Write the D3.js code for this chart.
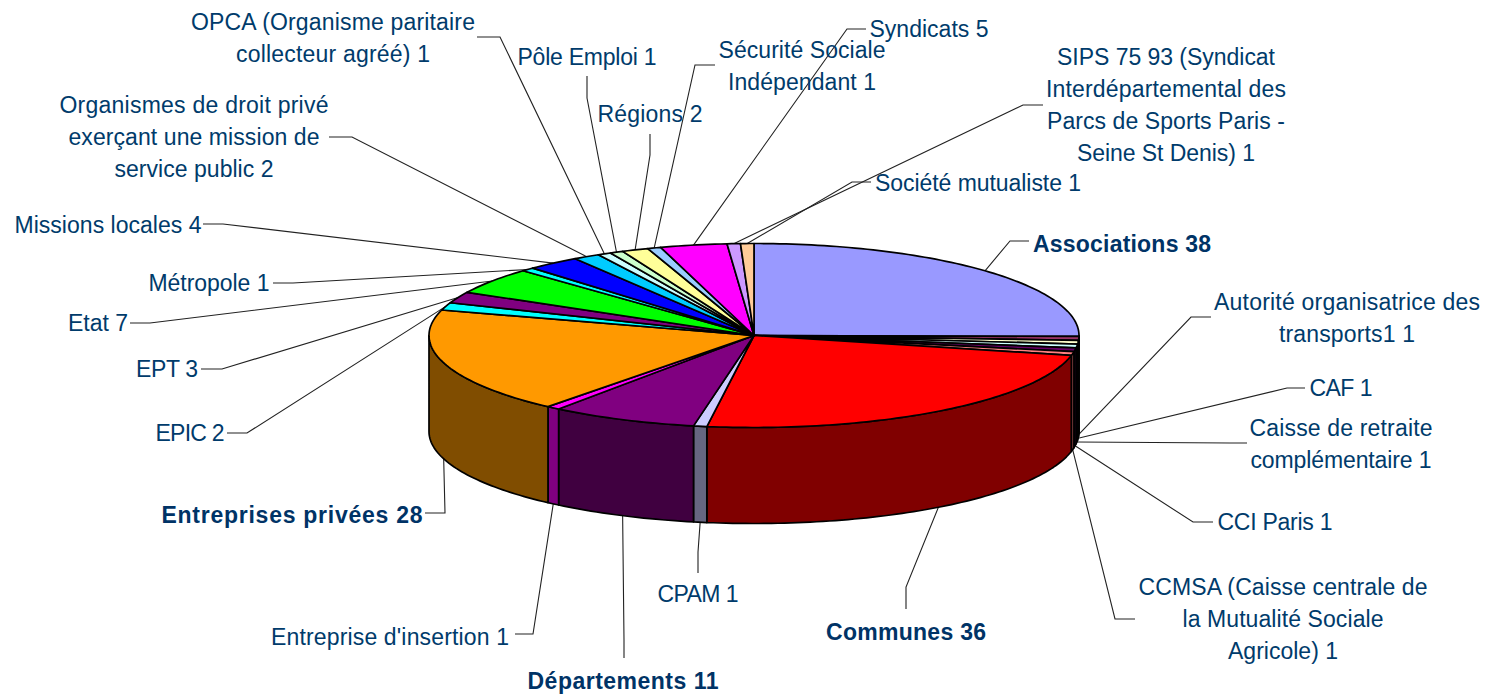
<!DOCTYPE html>
<html>
<head>
<meta charset="utf-8">
<script src="https://d3js.org/d3.v7.min.js"></script>
<style>
    html, body { margin: 0; padding: 0; background: #fff; }
    svg { display: block; }
    text { font-family: "Liberation Sans", Arial, sans-serif; font-size: 23px; fill: #003b6b; }
    text.bold { font-weight: bold; fill: #003366; }
</style>
</head>
<body>
<div id="chart"></div>
<script>
// Data, clockwise from 12 o'clock
const categories = [
    "Associations", "Autorité organisatrice", "CAF", "Caisse de retraite", "CCI Paris", "CCMSA", "Communes", "CPAM",
    "Départements", "Entreprise d'insertion", "Entreprises privées", "EPIC", "EPT", "Etat", "Métropole",
    "Missions locales", "Organismes de droit privé", "OPCA", "Pôle Emploi", "Régions", "Sécurité Sociale Indépendant",
    "Syndicats", "SIPS 75 93", "Société mutualiste"
];
const values = [38, 1, 1, 1, 1, 1, 36, 1, 11, 1, 28, 2, 3, 7, 1, 4, 2, 1, 1, 2, 1, 5, 1, 1];
const labelLines = [
    ["Associations 38"],
    ["Autorité organisatrice des", "transports1 1"],
    ["CAF 1"],
    ["Caisse de retraite", "complémentaire 1"],
    ["CCI Paris 1"],
    ["CCMSA (Caisse centrale de", "la Mutualité Sociale", "Agricole) 1"],
    ["Communes 36"],
    ["CPAM 1"],
    ["Départements 11"],
    ["Entreprise d'insertion 1"],
    ["Entreprises privées 28"],
    ["EPIC 2"],
    ["EPT 3"],
    ["Etat 7"],
    ["Métropole 1"],
    ["Missions locales 4"],
    ["Organismes de droit privé", "exerçant une mission de", "service public 2"],
    ["OPCA (Organisme paritaire", "collecteur agréé) 1"],
    ["Pôle Emploi 1"],
    ["Régions 2"],
    ["Sécurité Sociale", "Indépendant 1"],
    ["Syndicats 5"],
    ["SIPS 75 93 (Syndicat", "Interdépartemental des", "Parcs de Sports Paris -", "Seine St Denis) 1"],
    ["Société mutualiste 1"]
];
const boldLabels = ["Associations", "Communes", "Départements", "Entreprises privées"];
const topColors = [
    "#9999ff", "#993366", "#ffffcc", "#ccffff", "#660066", "#ff8080", "#ff0000", "#ccccff",
    "#800080", "#ff00ff", "#ff9900", "#00ffff", "#800080", "#00ff00", "#00ffff",
    "#0000ff", "#00ccff", "#ccffff", "#ccffcc", "#ffff99", "#99ccff", "#ff00ff", "#cc99ff", "#ffcc99"
];

// Label placement: text centre x, first line y, line widths, then leader elbow and end
const labelLayout = [
    { x: 1122, y: 244, w: [178], elbow: [1010, 241], end: [1029, 241] },
    { x: 1347, y: 302, w: [266, 136], elbow: [1191, 317], end: [1211, 317] },
    { x: 1341, y: 388, w: [63], elbow: [1287, 388], end: [1305, 388] },
    { x: 1341, y: 428, w: [183, 181], elbow: [1230, 443], end: [1247, 443] },
    { x: 1275, y: 522, w: [115], elbow: [1193, 522], end: [1213, 522] },
    { x: 1283, y: 587, w: [289, 201, 110], elbow: [1115, 619], end: [1135, 619] },
    { x: 906, y: 632, w: [160], elbow: [906, 587], end: [906, 609] },
    { x: 698, y: 594, w: [81], elbow: [698, 552], end: [698, 573] },
    { x: 623, y: 681, w: [191], elbow: [624, 640], end: [624, 658] },
    { x: 390, y: 637, w: [238], elbow: [533, 634], end: [515, 634] },
    { x: 292, y: 515, w: [261], elbow: [445, 513], end: [425, 513] },
    { x: 190, y: 433, w: [69], elbow: [247, 433], end: [227, 433] },
    { x: 167, y: 369, w: [62], elbow: [222, 369], end: [201, 369] },
    { x: 98, y: 323, w: [60], elbow: [150, 323], end: [130, 323] },
    { x: 209, y: 283, w: [121], elbow: [293, 283], end: [273, 283] },
    { x: 108, y: 225, w: [187], elbow: [223, 224], end: [203, 224] },
    { x: 194, y: 105, w: [269, 251, 159], elbow: [352, 137], end: [329, 137] },
    { x: 333, y: 22, w: [284, 194], elbow: [500, 37], end: [477, 37] },
    { x: 587, y: 57, w: [139], elbow: [587, 98], end: [587, 76] },
    { x: 650, y: 114, w: [105], elbow: [650, 155], end: [650, 134] },
    { x: 802, y: 50, w: [167, 148], elbow: [695, 65], end: [715, 65] },
    { x: 929, y: 29, w: [119], elbow: [847, 29], end: [866, 29] },
    { x: 1166, y: 57, w: [218, 240, 238, 178], elbow: [1023, 105], end: [1043, 105] },
    { x: 978, y: 183, w: [206], elbow: [852, 182], end: [871, 182] }
];

const width = 1494, height = 700;
const cx = 754, cy = 335.5, rx = 325, ry = 92, depth = 96;

const xPos = d3.scaleLinear().domain([-1, 1]).range([cx - rx, cx + rx]);
const yPos = d3.scaleLinear().domain([-1, 1]).range([cy - ry, cy + ry]);

const pointAt = (a, dy = 0) => [xPos(Math.sin(a)), yPos(-Math.cos(a)) + dy];
const line = d3.line();

const slices = d3.pie().sort(null).startAngle(0).endAngle(2 * Math.PI)(values);

function arcPoints(a0, a1, dy = 0) {
    const n = Math.max(2, Math.ceil((a1 - a0) / 0.02));
    return d3.range(n + 1).map(i => pointAt(a0 + (a1 - a0) * i / n, dy));
}

function halfColor(c) {
    const col = d3.color(c);
    return d3.rgb(col.r / 2, col.g / 2, col.b / 2).formatHex();
}

const svg = d3.select("#chart").append("svg")
    .attr("width", width)
    .attr("height", height);

// Leaders go first, the pie covers their roots
const anchors = slices.map(s => {
    const mid = (s.startAngle + s.endAngle) / 2;
    const front = Math.cos(mid) < 0;
    return pointAt(mid, front ? depth : 0);
});

svg.append("g").selectAll("path")
    .data(slices)
    .enter()
    .append("path")
    .attr("fill", "none")
    .attr("stroke", "#222")
    .attr("stroke-width", 1.1)
    .attr("d", (d, i) => line([anchors[i], labelLayout[i].elbow, labelLayout[i].end]));

// Wall of the front half only, radial walls are hidden since nothing is exploded
svg.append("g").selectAll("path")
    .data(slices.filter(s => s.endAngle > Math.PI / 2 && s.startAngle < 3 * Math.PI / 2))
    .enter()
    .append("path")
    .attr("fill", d => halfColor(topColors[d.index]))
    .attr("stroke", "#000")
    .attr("stroke-width", 1.7)
    .attr("stroke-linejoin", "round")
    .attr("d", d => {
        const a0 = Math.max(d.startAngle, Math.PI / 2);
        const a1 = Math.min(d.endAngle, 3 * Math.PI / 2);
        return line([...arcPoints(a0, a1), ...arcPoints(a0, a1, depth).reverse()]) + "Z";
    });

// Top faces
svg.append("g").selectAll("path")
    .data(slices)
    .enter()
    .append("path")
    .attr("fill", d => topColors[d.index])
    .attr("stroke", "#000")
    .attr("stroke-width", 1.7)
    .attr("stroke-linejoin", "round")
    .attr("d", d => line([[cx, cy], ...arcPoints(d.startAngle, d.endAngle)]) + "Z");

// Labels, one text per line so each can be fitted to its width
const labelRows = labelLines.flatMap((rows, i) => rows.map((t, j) => ({ t, j, i })));

svg.append("g").selectAll("text")
    .data(labelRows)
    .enter()
    .append("text")
    .attr("class", d => boldLabels.includes(categories[d.i]) ? "bold" : null)
    .attr("text-anchor", "middle")
    .attr("x", d => labelLayout[d.i].x)
    .attr("y", d => labelLayout[d.i].y + d.j * 32 + 8)
    .attr("textLength", d => labelLayout[d.i].w[d.j])
    .text(d => d.t);
</script>
</body>
</html>
